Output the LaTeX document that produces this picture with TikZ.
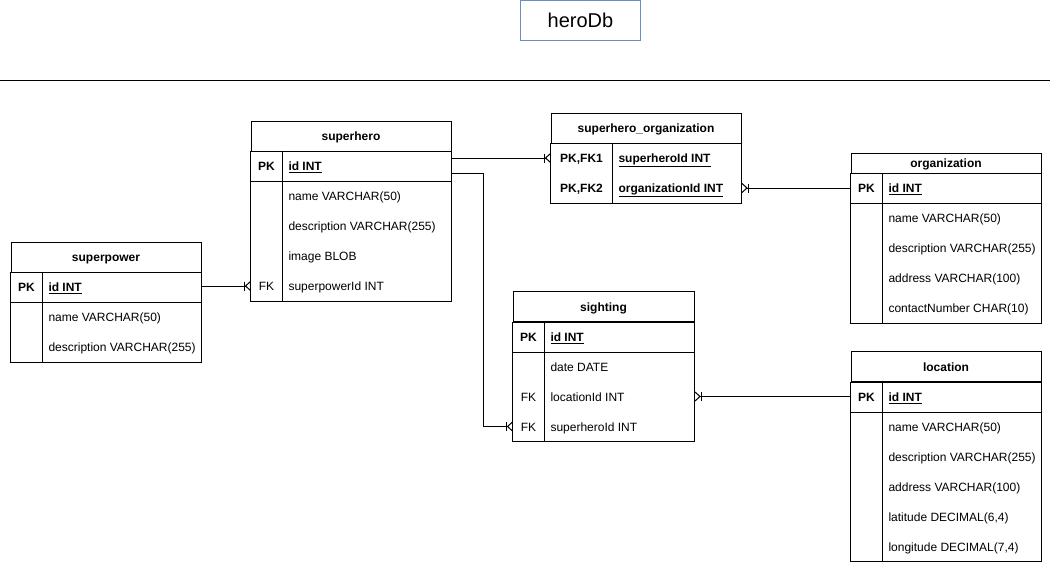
\documentclass[tikz,border=0pt,12pt]{standalone}
\usepackage{fontspec}
\setmainfont{Liberation Sans}
\usepackage{tikz}
\usetikzlibrary{arrows.meta}
\definecolor{titleblue}{HTML}{6C8EBF}
\tikzset{
  hdr/.style={draw, minimum height=30pt, inner sep=0pt, font=\bfseries,
    text height=10pt, text depth=0.5pt},
  key/.style={minimum width=#1, minimum height=30pt, inner sep=0pt,
    anchor=west, text height=10pt, text depth=0.5pt},
  key/.default=30pt,
  fld/.style={anchor=west, inner sep=0pt, text height=10pt, text depth=0.5pt},
  tomany/.style={-{Bar[width=9pt,sep=0pt]Straight Barb[reversed,length=5pt,width=9pt]}},
  frommany/.style={{Straight Barb[reversed,length=5pt,width=9pt]Bar[width=9pt,sep=0pt]}-}
}

\begin{document}
\begin{tikzpicture}[x=1pt, y=-1pt, line width=1pt]
    \useasboundingbox (0,0) rectangle (1052,562);
    \node[draw=titleblue, minimum width=120pt, minimum height=40pt,
      font=\fontsize{20}{24}\selectfont] (title) at (580.5,20.5) {heroDb};
    \draw (0,80.5) -- (1050,80.5);

    % superpower
    \node[hdr, minimum width=190pt] (power) at (106,257) {superpower};
    \node[key, font=\bfseries] (power-idk) at (11,287) {PK};
    \node[fld] (power-id) at (48,287) {\textbf{\underline{id INT}}};
    \node[fld] (power-name) at (48,317) {name VARCHAR(50)};
    \node[fld] (power-desc) at (48,347) {description VARCHAR(255)};
    \coordinate (power-bot) at (201,362);
    \draw (power.south west) rectangle (power-bot);
    \draw (power-idk.south west) -- (power-idk.south -| power-bot);
    \draw (power-idk.north east) -- (power-idk.north east |- power-bot);

    % superhero
    \node[hdr, minimum width=200pt] (hero) at (351,136) {superhero};
    \node[key, font=\bfseries] (hero-idk) at (251,166) {PK};
    \node[fld] (hero-id) at (288,166) {\textbf{\underline{id INT}}};
    \node[fld] (hero-name) at (288,196) {name VARCHAR(50)};
    \node[fld] (hero-desc) at (288,226) {description VARCHAR(255)};
    \node[fld] (hero-img) at (288,256) {image BLOB};
    \node[key] (hero-spk) at (251,286) {FK};
    \node[fld] (hero-sp) at (288,286) {superpowerId INT};
    \coordinate (hero-bot) at (451,301);
    \draw (hero.south west) rectangle (hero-bot);
    \draw (hero-idk.south west) -- (hero-idk.south -| hero-bot);
    \draw (hero-idk.north east) -- (hero-idk.north east |- hero-bot);

    % superhero_organization
    \node[hdr, minimum width=190pt] (heroorg) at (646,128) {superhero\_organization};
    \node[key=60pt, font=\bfseries] (heroorg-hk) at (551,158) {PK,FK1};
    \node[fld] (heroorg-h) at (618,158) {\textbf{\underline{superheroId INT}}};
    \node[key=60pt, font=\bfseries] (heroorg-ok) at (551,188) {PK,FK2};
    \node[fld] (heroorg-o) at (618,188) {\textbf{\underline{organizationId INT}}};
    \coordinate (heroorg-bot) at (741,203);
    \draw (heroorg.south west) rectangle (heroorg-bot);
    \draw (heroorg-hk.north east) -- (heroorg-hk.north east |- heroorg-bot);

    % organization
    \node[hdr, minimum width=190pt, minimum height=20pt] (org) at (946,163) {organization};
    \node[key, font=\bfseries] (org-idk) at (851,188) {PK};
    \node[fld] (org-id) at (888,188) {\textbf{\underline{id INT}}};
    \node[fld] (org-name) at (888,218) {name VARCHAR(50)};
    \node[fld] (org-desc) at (888,248) {description VARCHAR(255)};
    \node[fld] (org-addr) at (888,278) {address VARCHAR(100)};
    \node[fld] (org-phone) at (888,308) {contactNumber CHAR(10)};
    \coordinate (org-bot) at (1041,323);
    \draw (org.south west) rectangle (org-bot);
    \draw (org-idk.south west) -- (org-idk.south -| org-bot);
    \draw (org-idk.north east) -- (org-idk.north east |- org-bot);

    % sighting
    \node[hdr, minimum width=181pt] (sight) at (603.5,306.5) {sighting};
    \node[key, font=\bfseries] (sight-idk) at (513,336.5) {PK};
    \node[fld] (sight-id) at (550,336.5) {\textbf{\underline{id INT}}};
    \node[fld] (sight-date) at (550,366.5) {date DATE};
    \node[key] (sight-lk) at (513,396.5) {FK};
    \node[fld] (sight-l) at (550,396.5) {locationId INT};
    \node[key] (sight-hk) at (513,426.5) {FK};
    \node[fld] (sight-h) at (550,426.5) {superheroId INT};
    \coordinate (sight-bot) at (694,441.5);
    \draw (sight.south west) rectangle (sight-bot);
    \draw (sight-idk.south west) -- (sight-idk.south -| sight-bot);
    \draw (sight-idk.north east) -- (sight-idk.north east |- sight-bot);

    % location
    \node[hdr, minimum width=190pt] (loc) at (946,366.5) {location};
    \node[key, font=\bfseries] (loc-idk) at (851,396.5) {PK};
    \node[fld] (loc-id) at (888,396.5) {\textbf{\underline{id INT}}};
    \node[fld] (loc-name) at (888,426.5) {name VARCHAR(50)};
    \node[fld] (loc-desc) at (888,456.5) {description VARCHAR(255)};
    \node[fld] (loc-addr) at (888,486.5) {address VARCHAR(100)};
    \node[fld] (loc-lat) at (888,516.5) {latitude DECIMAL(6,4)};
    \node[fld] (loc-lon) at (888,546.5) {longitude DECIMAL(7,4)};
    \coordinate (loc-bot) at (1041,561.5);
    \draw (loc.south west) rectangle (loc-bot);
    \draw (loc-idk.south west) -- (loc-idk.south -| loc-bot);
    \draw (loc-idk.north east) -- (loc-idk.north east |- loc-bot);

    % relations
    \draw[tomany] (power.east |- hero-spk) -- (hero-spk.west);
    \draw[tomany] (hero.east |- heroorg-hk) -- (heroorg-hk.west);
    \draw[tomany] ([yshift=8pt]hero-idk.south -| hero.east) -- ++(32,0)
      |- (sight-hk.west);
    \draw[frommany] (heroorg.east |- heroorg-ok) -- (org-idk.west);
    \draw[frommany] (sight.east |- sight-lk) -- (loc-idk.west);
\end{tikzpicture}
\end{document}
